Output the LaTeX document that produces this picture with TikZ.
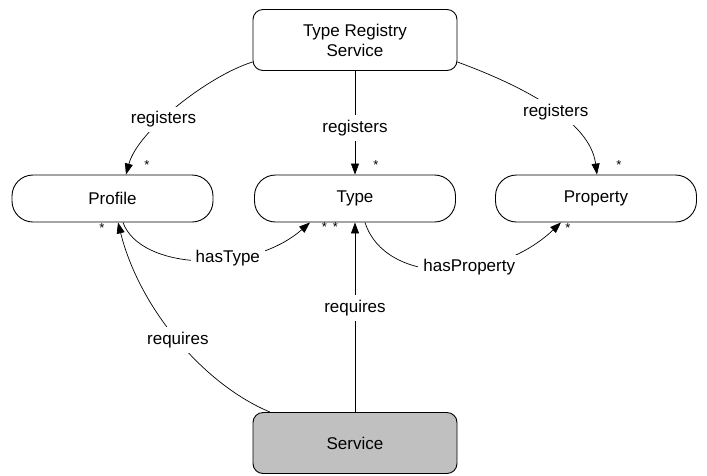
\documentclass[tikz,border=0pt]{standalone}
\usepackage{fontspec}
\setmainfont{Liberation Sans}
\usetikzlibrary{arrows.meta}
\definecolor{svcgray}{HTML}{C0C0C0}
\begin{document}
\begin{tikzpicture}[x=1pt,y=-1pt,
  font=\fontsize{17}{20}\selectfont,
  every node/.style={inner sep=1pt},
  classbox/.style={draw=black, line width=0.9pt, rounded corners=10pt,
    minimum width=204pt, minimum height=61pt, align=center},
  pillbox/.style={draw=black, line width=0.9pt, rounded corners=21pt,
    minimum width=201pt, minimum height=47pt},
  conn/.style={draw=black, line width=0.7pt},
  arr/.style={conn, -{Triangle[length=11pt,width=8pt]}},
  lbl/.style={fill=white, inner sep=5pt},
  mult/.style={font=\fontsize{13}{13}\selectfont, inner sep=0pt, anchor=center}
]
\useasboundingbox (0,0) rectangle (707,475);

\node[classbox] (trs) at (355,40) {Type Registry\\Service};
\node[pillbox] (prof) at (112.5,198.5) {Profile};
\node[pillbox] (type) at (355,198.5) {Type};
\node[pillbox] (prop) at (596,198.5) {Property};
\node[classbox, fill=svcgray] (svc) at (355,443) {Service};

% registers
\draw[arr] ([yshift=-22pt]trs.west) .. controls (210,75) and (138,130) .. ([xshift=13.5pt]prof.north)
  node[pos=0.6, lbl] {registers}
  node[pos=1, mult, xshift=21pt, yshift=10pt] {*};
\draw[arr] (trs.south) -- (type.north)
  node[pos=0.55, lbl] {registers}
  node[pos=1, mult, xshift=21pt, yshift=10pt] {*};
\draw[arr] ([yshift=-22pt]trs.east) .. controls (520,85) and (590,120) .. ([xshift=1pt]prop.north)
  node[pos=0.55, lbl] {registers}
  node[pos=1, mult, xshift=22pt, yshift=10pt] {*};

% hasType
\draw[arr] ([xshift=10.5pt]prof.south) .. controls (140,270) and (250,275) .. ([xshift=-45pt]type.south)
  node[pos=0.62, lbl] {hasType}
  node[pos=1, mult, xshift=20pt, yshift=-5pt] {*\hspace{6pt}*};

% hasProperty
\draw[arr] ([xshift=10pt]type.south) .. controls (385,285) and (495,285) .. ([xshift=-35pt]prop.south)
  node[pos=0.6, lbl] {hasProperty}
  node[pos=1, mult, xshift=7pt, yshift=-6pt] {*};

% requires
\draw[arr] ([xshift=-85pt]svc.north) .. controls (205,385) and (140,310) .. ([xshift=5.5pt]prof.south)
  node[pos=0.5, lbl] {requires}
  node[pos=1, mult, xshift=-16pt, yshift=-6pt] {*};
\draw[arr] (svc.north) -- (type.south)
  node[pos=0.55, lbl] {requires};
\end{tikzpicture}
\end{document}
